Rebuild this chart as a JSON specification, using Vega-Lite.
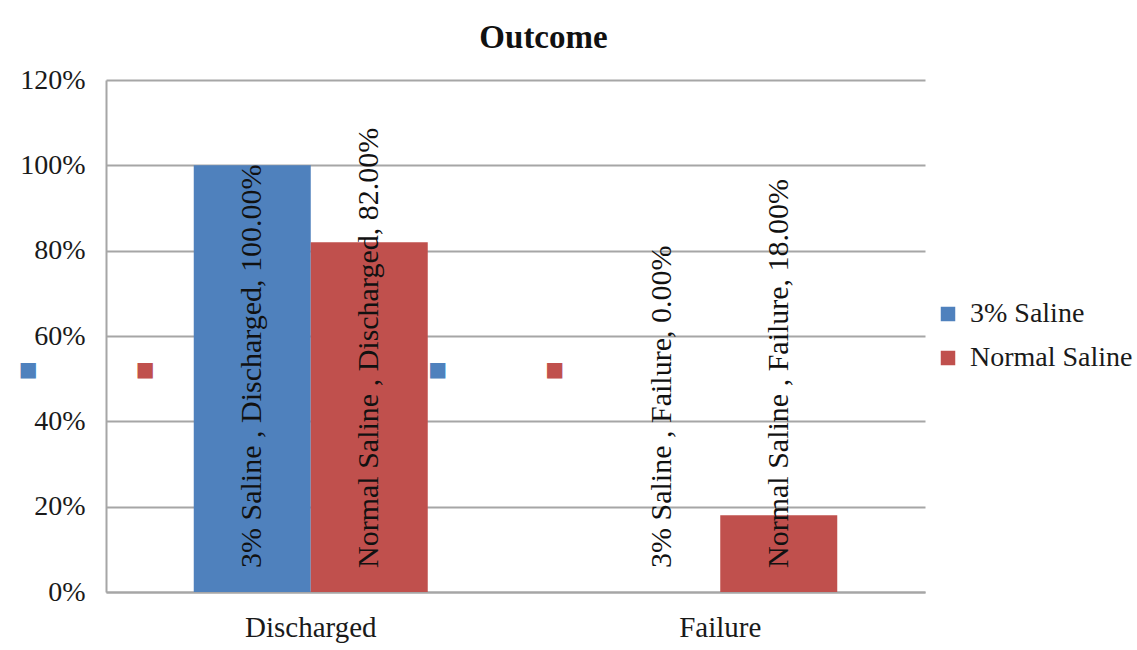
{
  "$schema": "https://vega.github.io/schema/vega-lite/v6.json",
  "autosize": "none",
  "width": 819,
  "height": 512,
  "padding": {"left": 106, "top": 80, "right": 212, "bottom": 58},
  "background": "white",
  "title": {
    "text": "Outcome",
    "font": "Liberation Serif",
    "fontSize": 33,
    "fontWeight": "bold",
    "color": "#111111",
    "anchor": "middle",
    "frame": "group",
    "dx": 28,
    "baseline": "middle",
    "offset": -5
  },
  "data": {
    "values": [
      {"outcome": "Discharged", "group": "3% Saline", "pct": 100},
      {"outcome": "Discharged", "group": "Normal Saline", "pct": 82},
      {"outcome": "Failure", "group": "3% Saline", "pct": 0},
      {"outcome": "Failure", "group": "Normal Saline", "pct": 18}
    ]
  },
  "transform": [
    {"calculate": "datum.group + ' , ' + datum.outcome + ', ' + format(datum.pct, '.2f') + '%'", "as": "label"}
  ],
  "encoding": {
    "x": {
      "field": "outcome",
      "type": "nominal",
      "sort": ["Discharged", "Failure"],
      "scale": {"paddingInner": 0, "paddingOuter": 0},
      "axis": {
        "title": null,
        "labelAngle": 0,
        "ticks": false,
        "labelPadding": 21,
        "labelFontSize": 29,
        "labelColor": "#1a1a1a",
        "domainColor": "#a6a6a6",
        "domainWidth": 2
      }
    },
    "xOffset": {
      "field": "group",
      "type": "nominal",
      "sort": ["3% Saline", "Normal Saline"],
      "scale": {"paddingInner": 0, "paddingOuter": 0.75}
    }
  },
  "layer": [
    {
      "mark": {"type": "bar"},
      "encoding": {
        "y": {
          "field": "pct",
          "type": "quantitative",
          "scale": {"domain": [0, 120], "nice": false},
          "axis": {
            "title": null,
            "values": [0, 20, 40, 60, 80, 100, 120],
            "labelExpr": "datum.value + '%'",
            "ticks": false,
            "labelPadding": 21,
            "labelFontSize": 28,
            "labelColor": "#1a1a1a",
            "domainColor": "#a6a6a6",
            "domainWidth": 2,
            "grid": true,
            "gridColor": "#a6a6a6",
            "gridWidth": 2
          }
        },
        "color": {
          "field": "group",
          "type": "nominal",
          "sort": ["3% Saline", "Normal Saline"],
          "scale": {"domain": ["3% Saline", "Normal Saline"], "range": ["#4f81bd", "#c0504d"]},
          "legend": {
            "title": null,
            "orient": "none",
            "legendX": 828,
            "legendY": 220,
            "symbolType": "square",
            "symbolSize": 210,
            "symbolStrokeWidth": 0,
            "labelFontSize": 28,
            "labelColor": "#1a1a1a",
            "labelOffset": 8,
            "labelLimit": 400,
            "rowPadding": 16
          }
        }
      }
    },
    {
      "mark": {
        "type": "text",
        "angle": 270,
        "align": "left",
        "baseline": "middle",
        "dx": 24,
        "fontSize": 30,
        "color": "#111111"
      },
      "encoding": {
        "y": {"datum": 0, "type": "quantitative"},
        "text": {"field": "label"}
      }
    },
    {
      "mark": {
        "type": "text",
        "text": "■",
        "font": "DejaVu Sans",
        "fontSize": 20,
        "align": "center",
        "baseline": "middle",
        "dx": -224,
        "dy": -222
      },
      "encoding": {
        "y": {"datum": 0, "type": "quantitative"},
        "color": {"field": "group", "type": "nominal", "sort": ["3% Saline", "Normal Saline"]}
      }
    }
  ],
  "config": {
    "font": "Liberation Serif",
    "view": {"stroke": null},
    "axis": {"labelFont": "Liberation Serif"},
    "legend": {"labelFont": "Liberation Serif"}
  }
}
